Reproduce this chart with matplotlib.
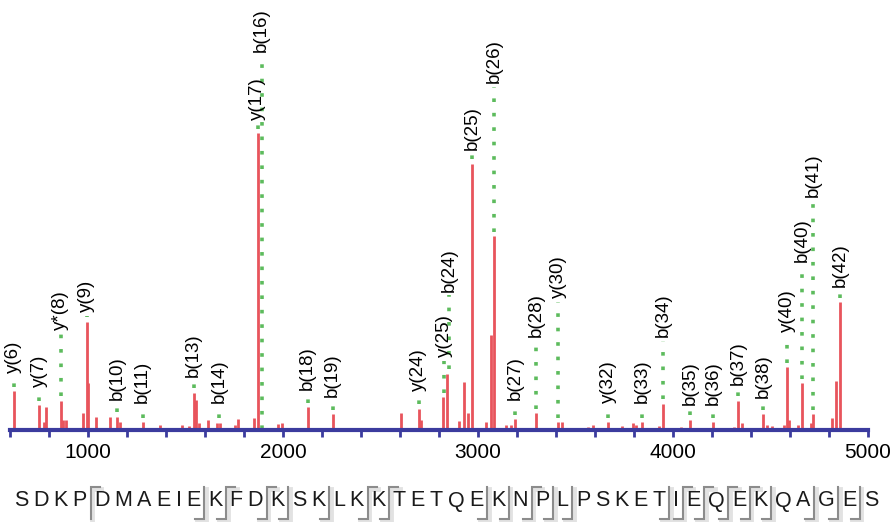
import numpy as np
import matplotlib.pyplot as plt
from matplotlib.lines import Line2D

plt.rcParams['font.family'] = ['Liberation Sans', 'DejaVu Sans']

# peak list: m/z and relative intensity
mz = [620, 749, 774, 783, 860, 871, 887, 974, 994, 999, 1040, 1112, 1148, 1163,
      1281, 1368, 1481, 1517, 1542, 1553, 1568, 1614, 1660, 1676, 1752, 1768,
      1850, 1870, 1973, 1993, 2126, 2254, 2603, 2695, 2710, 2823, 2843, 2900,
      2930, 2951, 2971, 3043, 3068, 3084, 3145, 3171, 3192, 3299, 3412, 3432,
      3565, 3591, 3612, 3668, 3740, 3796, 3811, 3842, 3929, 3950, 4042, 4088,
      4206, 4313, 4334, 4354, 4462, 4482, 4508, 4569, 4585, 4595, 4641, 4661,
      4708, 4718, 4815, 4836, 4856]
intensity = [13.1, 8.4, 2.7, 7.7, 9.8, 3.4, 3.4, 5.7, 36.4, 15.8, 4.4, 4.4, 4.4, 2.7,
             2.7, 1.7, 1.7, 1.3, 12.5, 10.1, 2.4, 3.4, 2.4, 2.4, 1.7, 3.7,
             4.0, 100.0, 2.0, 2.4, 7.7, 5.4, 5.7, 7.1, 3.4, 11.1, 18.9, 3.0,
             16.2, 5.7, 89.6, 2.7, 32.0, 65.3, 1.7, 1.7, 3.7, 5.7, 2.7, 2.7,
             1.0, 1.7, 0.7, 2.7, 1.3, 2.4, 1.7, 2.7, 1.3, 8.8, 1.0, 3.4,
             2.7, 1.0, 9.8, 2.4, 5.4, 1.7, 1.3, 1.7, 21.2, 3.4, 1.7, 15.8,
             2.4, 5.4, 4.0, 16.5, 43.1]

# fragment ion annotations
ions = ['y(6)', 'y(7)', 'y*(8)', 'y(9)', 'b(10)', 'b(11)', 'b(13)', 'b(14)', 'y(17)',
        'b(16)', 'b(18)', 'b(19)', 'y(24)', 'y(25)', 'b(24)', 'b(25)', 'b(26)',
        'b(27)', 'b(28)', 'y(30)', 'y(32)', 'b(33)', 'b(34)', 'b(35)', 'b(36)',
        'b(37)', 'b(38)', 'y(40)', 'b(40)', 'b(41)', 'b(42)']
ion_mz = [620, 749, 860, 994, 1148, 1281, 1542, 1671, 1870, 1891, 2126, 2254, 2695,
          2828, 2853, 2971, 3084, 3192, 3299, 3412, 3668, 3842, 3950, 4088, 4206,
          4334, 4462, 4585, 4661, 4718, 4856]
ion_h = [19.2, 14.5, 33.7, 39.7, 10.1, 9.1, 17.8, 9.1, 104.4, 127.3, 13.5, 11.1, 13.1,
         24.6, 46.5, 94.3, 116.8, 10.1, 31.3, 44.4, 9.1, 9.1, 31.3, 8.4, 8.4, 15.2,
         10.8, 33.0, 56.6, 78.5, 48.1]

seq = "SDKPDMAEIEKFDKSKLKKTETQEKNPLPSKETIEQEKQAGES"
b_sites = [10, 11, 13, 14, 16, 18, 19, 24, 25, 26, 27, 28, 33, 34, 35, 36, 37, 38, 40, 41, 42]
y_sites = [4, 11, 13, 18, 19, 26, 34, 35, 36, 37]

W, H = 890, 522
fig = plt.figure(figsize=(W / 100, H / 100), dpi=100)
ax = fig.add_axes([10 / W, 92 / H, 858 / W, 430 / H])
ax.set_xlim(600, 5000)
ax.set_ylim(0, 144.8)

ax.vlines(mz, 0, intensity, color='#e8545c', lw=2.0, zorder=2)

mz_arr = np.array(mz)
int_arr = np.array(intensity)
for name, x, h in zip(ions, ion_mz, ion_h):
    d = np.abs(mz_arr - x)
    start = int_arr[d.argmin()] + 1.5 if d.min() <= 12 else 0.5
    ax.plot([x, x], [start, h - 1.2], color='#5dbb5d', lw=2.6,
            linestyle=(0, (1, 3)), dash_capstyle='butt', zorder=3, clip_on=False)
    ax.text(x, h, name, rotation=90, ha='center', va='bottom', fontsize=13.5,
            clip_on=False, zorder=4)

for s in ['top', 'right', 'left']:
    ax.spines[s].set_visible(False)
ax.spines['bottom'].set_color('#3b3b9e')
ax.spines['bottom'].set_linewidth(3)
ax.spines['bottom'].set_zorder(5)
ax.set_yticks([])
ax.set_xticks([1000, 2000, 3000, 4000, 5000])
ax.set_xticks(np.arange(600, 5001, 200), minor=True)
ax.tick_params(axis='x', which='both', direction='out', length=5, width=2,
               color='#3b3b9e', labelsize=15, pad=4)
ax.patch.set_alpha(0)

# sequence with cleavage marks
fs = 15.5
renderer = fig.canvas.get_renderer()
widths = []
for ch in seq:
    t = fig.text(0, 0, ch, fontsize=fs)
    widths.append(t.get_window_extent(renderer).width)
    t.remove()
space, bgap = 6.0, 9.0
x0, x1 = 14, 878
cuts = [(i + 1 in b_sites or i + 1 in y_sites) for i in range(len(seq) - 1)]
natural = sum(bgap if c else space for c in cuts)
scale = (x1 - x0 - sum(widths)) / natural
pos = []
x = x0
for i, w in enumerate(widths):
    pos.append(x)
    if i < len(cuts):
        x += w + (bgap if cuts[i] else space) * scale
ytxt = 501
for ch, xl, w in zip(seq, pos, widths):
    fig.text((xl + w / 2) / W, (H - ytxt) / H, ch, fontsize=fs, ha='center',
             va='center', color='#1a1a1a')

ytop, ybot, hook = 487, 519, 9
for i, c in enumerate(cuts):
    if not c:
        continue
    site = i + 1
    xm = (pos[i] + widths[i] + pos[i + 1]) / 2
    if site in b_sites and site in y_sites:
        xs = [xm - hook, xm, xm, xm + hook]
        ys = [ybot, ybot, ytop, ytop]
    elif site in b_sites:
        xs = [xm - hook, xm, xm]
        ys = [ybot, ybot, ytop]
    else:
        xs = [xm, xm, xm + hook]
        ys = [ybot, ytop, ytop]
    for col, lw, dx in [('#e2e2e2', 3.5, 1.5), ('#8c8c8c', 1.5, 0)]:
        fig.add_artist(Line2D([(v + dx) / W for v in xs], [(H - v - dx) / H for v in ys],
                              color=col, lw=lw, solid_joinstyle='miter'))

fig.savefig('out.png', dpi=100)
